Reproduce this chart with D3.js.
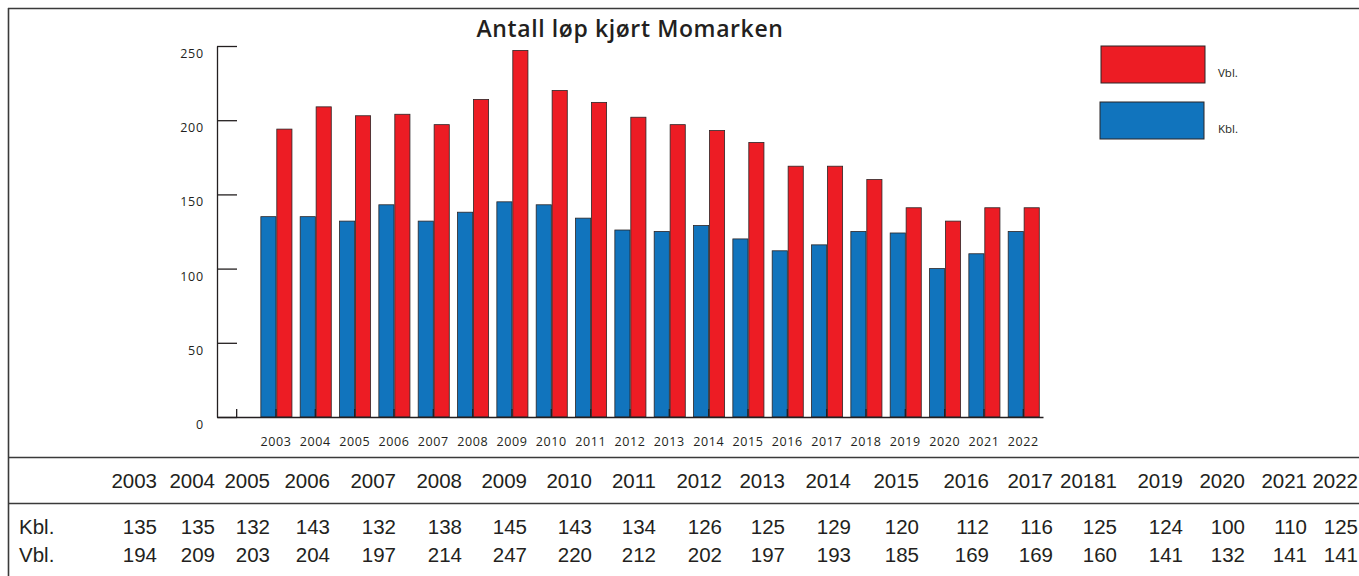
<!DOCTYPE html>
<html>
<head>
<meta charset="utf-8">
<script src="https://cdn.jsdelivr.net/npm/d3@7"></script>
<style>
  body { margin: 0; background: #fff; }
  svg { display: block; }
</style>
</head>
<body>
<svg id="chart"></svg>
<script>
// Data
var years = ["2003","2004","2005","2006","2007","2008","2009","2010","2011","2012",
             "2013","2014","2015","2016","2017","2018","2019","2020","2021","2022"];
var kbl = [135,135,132,143,132,138,145,143,134,126,125,129,120,112,116,125,124,100,110,125];
var vbl = [194,209,203,204,197,214,247,220,212,202,197,193,185,169,169,160,141,132,141,141];
var yTicks = [0,50,100,150,200,250];
// table header as printed (incl. the "20181" typo)
var tableYears = ["2003","2004","2005","2006","2007","2008","2009","2010","2011","2012",
                  "2013","2014","2015","2016","2017","20181","2019","2020","2021","2022"];

// SVG
var width = 1359;
var height = 576;
var red = "#ed1c24";
var blue = "#1174bd";
var edge = "#2b2526";

var svg = d3.select("#chart")
    .attr("width", width)
    .attr("height", height);

// Scales - first band is empty, like the original
var xScale = d3.scaleBand()
    .domain([""].concat(years))
    .range([217, 1043])
    .padding(0);

var yScale = d3.scaleLinear()
    .domain([0, 250])
    .range([417, 46]);

var bw = xScale.bandwidth();
var barW = bw * 0.385;

// frame
var frame = svg.append("g")
    .attr("stroke", "#3a3a3a")
    .attr("stroke-width", 1.6);
frame.append("line").attr("x1", 8).attr("x2", width).attr("y1", 8.5).attr("y2", 8.5);
frame.append("line").attr("x1", 8.5).attr("x2", 8.5).attr("y1", 8).attr("y2", height);
frame.append("line").attr("x1", 8).attr("x2", width).attr("y1", 457.5).attr("y2", 457.5);
frame.append("line").attr("x1", 8).attr("x2", width).attr("y1", 503.5).attr("y2", 503.5);

// Title
svg.append("text")
    .attr("x", 630)
    .attr("y", 37)
    .attr("text-anchor", "middle")
    .attr("font-family", "Open Sans")
    .attr("font-weight", 600)
    .attr("font-size", 23)
    .attr("letter-spacing", 0.6)
    .attr("fill", "#231f20")
    .text("Antall løp kjørt Momarken");

// Bars
var bars = svg.append("g");
bars.selectAll(".kbl")
    .data(years)
    .enter().append("rect")
    .attr("class", "kbl")
    .attr("x", (d, i) => xScale(d) + bw / 2 - barW)
    .attr("y", (d, i) => yScale(kbl[i]))
    .attr("width", barW)
    .attr("height", (d, i) => yScale(0) - yScale(kbl[i]))
    .attr("fill", blue)
    .attr("stroke", edge)
    .attr("stroke-width", 0.8);

bars.selectAll(".vbl")
    .data(years)
    .enter().append("rect")
    .attr("class", "vbl")
    .attr("x", d => xScale(d) + bw / 2 + 0.8)
    .attr("y", (d, i) => yScale(vbl[i]))
    .attr("width", barW)
    .attr("height", (d, i) => yScale(0) - yScale(vbl[i]))
    .attr("fill", red)
    .attr("stroke", edge)
    .attr("stroke-width", 0.8);

// Y axis
var yAxis = d3.axisRight(yScale)
    .tickValues(yTicks)
    .tickSize(20)
    .tickSizeOuter(0)
    .tickFormat("");

var gy = svg.append("g")
    .attr("transform", "translate(217,0)")
    .call(yAxis);
gy.select(".domain").attr("stroke", "#231f20").attr("stroke-width", 1.3);
gy.selectAll(".tick line").attr("stroke", "#231f20").attr("stroke-width", 1.3);

svg.append("g").selectAll("text")
    .data(yTicks)
    .enter().append("text")
    .attr("x", 204)
    .attr("y", d => yScale(d) + 12)
    .attr("text-anchor", "end")
    .attr("font-family", "Open Sans")
    .attr("font-size", 12.5)
    .attr("letter-spacing", 0.8)
    .attr("fill", "#231f20")
    .text(d => d);

// X axis
var xAxis = d3.axisTop(xScale)
    .tickSize(8)
    .tickSizeOuter(0)
    .tickFormat("");

var gx = svg.append("g")
    .attr("transform", "translate(0,417)")
    .call(xAxis);
gx.select(".domain").attr("stroke", "#231f20").attr("stroke-width", 1.3);
gx.selectAll(".tick line").attr("stroke", "#231f20").attr("stroke-width", 1.3);

svg.append("g").selectAll("text")
    .data(years)
    .enter().append("text")
    .attr("x", d => xScale(d) + bw / 2)
    .attr("y", 446)
    .attr("text-anchor", "middle")
    .attr("font-family", "Open Sans")
    .attr("font-size", 12.5)
    .attr("letter-spacing", 0.6)
    .attr("fill", "#231f20")
    .text(d => d);

// Legend
var legend = [
    {label: "Vbl.", color: red, x: 1101, y: 46},
    {label: "Kbl.", color: blue, x: 1100, y: 102}
];
var lg = svg.append("g").selectAll("g")
    .data(legend)
    .enter().append("g");
lg.append("rect")
    .attr("x", d => d.x)
    .attr("y", d => d.y)
    .attr("width", 104)
    .attr("height", 37)
    .attr("fill", d => d.color)
    .attr("stroke", edge)
    .attr("stroke-width", 1);
lg.append("text")
    .attr("x", 1218)
    .attr("y", d => d.y + 31)
    .attr("font-family", "Open Sans")
    .attr("font-size", 11.5)
    .attr("fill", "#231f20")
    .text(d => d.label);

// Table below the chart
var colRight = [157,215,270,330,396,462,527,592,656,722,785,851,919,989,1053,1117,1183,1245,1307,1358];
var tableFont = "'Liberation Sans', Arial, sans-serif";
var rowY = [488, 534, 562];

function tableRow(values, y) {
    svg.append("g").selectAll("text")
        .data(values)
        .enter().append("text")
        .attr("x", (d, i) => colRight[i])
        .attr("y", y)
        .attr("text-anchor", "end")
        .attr("font-family", tableFont)
        .attr("font-size", 20.5)
        .attr("fill", "#231f20")
        .text(d => d);
}
tableRow(tableYears, rowY[0]);
tableRow(kbl, rowY[1]);
tableRow(vbl, rowY[2]);

svg.append("g").selectAll("text")
    .data(["Kbl.", "Vbl."])
    .enter().append("text")
    .attr("x", 19)
    .attr("y", (d, i) => rowY[i + 1])
    .attr("font-family", tableFont)
    .attr("font-size", 20.5)
    .attr("fill", "#231f20")
    .text(d => d);
</script>
</body>
</html>
